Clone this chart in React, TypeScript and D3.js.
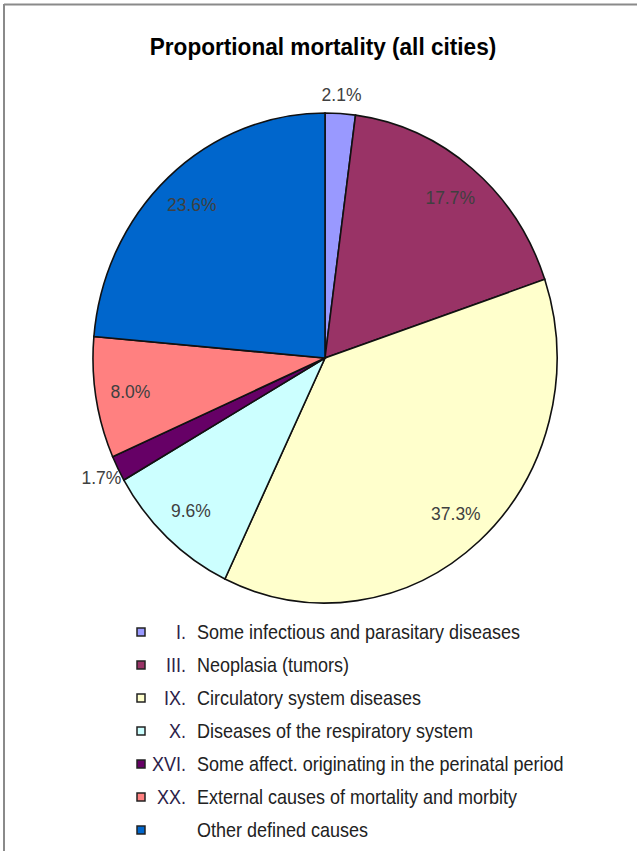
import * as d3 from "d3";

const numerals = ["I.", "III.", "IX.", "X.", "XVI.", "XX.", ""];
const causes = [
  "Some infectious and parasitary diseases",
  "Neoplasia (tumors)",
  "Circulatory system diseases",
  "Diseases of the respiratory system",
  "Some affect. originating in the perinatal period",
  "External causes of mortality and morbity",
  "Other defined causes",
];
const shares = [2.1, 17.7, 37.3, 9.6, 1.7, 8.0, 23.6];
const colors = ["#9999FF", "#993366", "#FFFFCC", "#CCFFFF", "#660066", "#FF8080", "#0066CC"];
// small slices get their label outside the pie
const outside = [true, false, false, false, true, false, false];

const W = 637;
const H = 851;
const CX = 325;
const CY = 358;
const R = 232;
const SY = 245 / 232; // picture is a little taller than wide
const TY = 1.08; // text is stretched a bit too

type Slice = { cause: string; value: number; color: string; out: boolean };

export default function App() {
  const data: Slice[] = causes.map((c, i) => ({
    cause: c,
    value: shares[i],
    color: colors[i],
    out: outside[i],
  }));

  const pie = d3
    .pie<Slice>()
    .value((d) => d.value)
    .sort(null);
  const arcs = pie(data);

  const arc = d3.arc<d3.PieArcDatum<Slice>>().innerRadius(0).outerRadius(R);
  const inLabel = d3.arc<d3.PieArcDatum<Slice>>().innerRadius(R * 0.85).outerRadius(R * 0.85);
  const outLabel = d3.arc<d3.PieArcDatum<Slice>>().innerRadius(R * 1.08).outerRadius(R * 1.08);

  const rowY = d3.scaleLinear().domain([0, causes.length - 1]).range([632, 830]);

  return (
    <svg
      width={W}
      height={H}
      style={{ position: "absolute", left: 0, top: 0, background: "#fff" }}
      fontFamily="'Liberation Sans', Arial, sans-serif"
    >
      {/* frame */}
      <line x1={4} y1={4.5} x2={W} y2={4.5} stroke="#8a8a8a" strokeWidth={2} />
      <line x1={4} y1={4} x2={4} y2={H} stroke="#8a8a8a" strokeWidth={2} />

      <text
        transform={`translate(323,55) scale(1,${TY})`}
        textAnchor="middle"
        fontSize={22.6}
        fontWeight="bold"
        fill="#000"
      >
        Proportional mortality (all cities)
      </text>

      <g transform={`translate(${CX},${CY}) scale(1,${SY})`}>
        {arcs.map((a, i) => (
          <path
            key={i}
            d={arc(a) || ""}
            fill={a.data.color}
            stroke="#111"
            strokeWidth={1.6}
            vectorEffect="non-scaling-stroke"
          />
        ))}
      </g>

      {arcs.map((a, i) => {
        const [lx, ly] = (a.data.out ? outLabel : inLabel).centroid(a);
        return (
          <text
            key={i}
            transform={`translate(${CX + lx},${CY + ly * SY}) scale(1,${TY})`}
            dy="0.35em"
            textAnchor="middle"
            fontSize={17.5}
            fill="#404040"
          >
            {a.data.value.toFixed(1)}%
          </text>
        );
      })}

      {/* legend */}
      {causes.map((c, i) => {
        const y = rowY(i);
        return (
          <g key={i}>
            <rect
              x={137}
              y={y - 4}
              width={8}
              height={8}
              fill={colors[i]}
              stroke="#222"
              strokeWidth={1.5}
            />
            <g transform={`translate(0,${y + 6.5}) scale(1,${TY})`}>
              <text x={186} textAnchor="end" fontSize={18} fill="#2c2148">
                {numerals[i]}
              </text>
              <text x={197} fontSize={18} fill="#222">
                {c}
              </text>
            </g>
          </g>
        );
      })}
    </svg>
  );
}
